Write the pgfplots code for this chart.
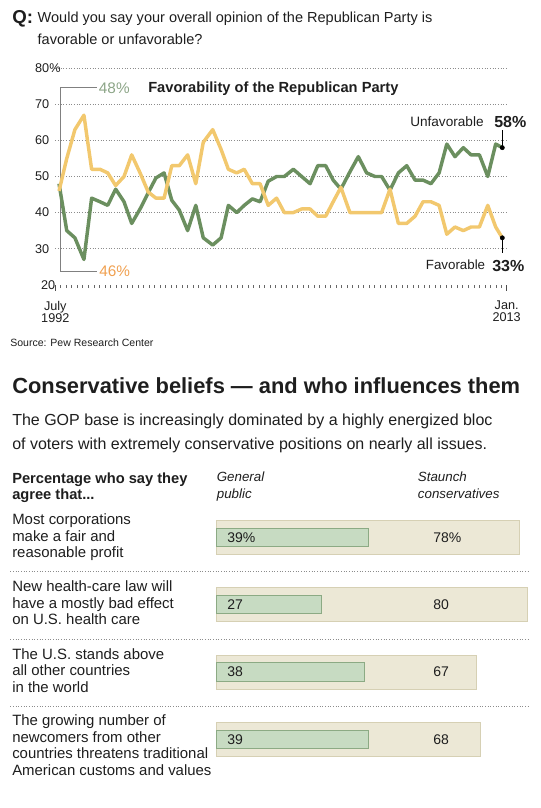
\documentclass[border=0pt]{standalone}
\usepackage{pgfplots}
\pgfplotsset{compat=1.18}
\usepackage{pgfplotstable}
\usepackage{fontspec}
\setmainfont{Liberation Sans}
\definecolor{ugreen}{RGB}{107,143,95}
\definecolor{uyellow}{RGB}{242,200,110}
\definecolor{lab48}{RGB}{140,165,135}
\definecolor{lab46}{RGB}{240,160,80}
\definecolor{beige}{RGB}{236,232,214}
\definecolor{beigeedge}{RGB}{214,208,180}
\definecolor{gbar}{RGB}{199,219,194}
\definecolor{gbaredge}{RGB}{140,170,132}
\definecolor{txt}{RGB}{30,30,30}
\newcommand{\fs}[1]{\fontsize{#1}{#1}\selectfont}
\newcommand{\T}[4][]{\node[anchor=base west,inner sep=0pt,text=txt,#1] at (#2,#3) {#4};}

\pgfplotstableread{
year unfav fav
1992.67 48 46
1993.02 35 55
1993.39 33 63
1993.80 27 67
1994.15 44 52
1994.53 43 52
1994.88 42 51
1995.24 46.5 47.5
1995.62 43 50
1995.97 37 56
1996.35 41 51
1996.72 45.5 45.7
1997.07 49.6 44
1997.44 51 44
1997.79 43.4 53
1998.13 40.7 53
1998.51 35 56
1998.88 42 48
1999.22 33 59.5
1999.65 31 63
2000.03 33 57.5
2000.36 42 52
2000.74 40 51
2001.08 42 52
2001.45 43.8 48
2001.80 43 48
2002.17 48.7 42
2002.55 50 44
2002.90 50 40
2003.31 52 40
2003.69 50 41
2004.07 48 41
2004.42 53 39
2004.78 53 39
2005.12 49 43
2005.47 46.5 47
2005.88 51.3 40
2006.26 55.5 40
2006.64 51 40
2007.02 50 40
2007.32 50 40
2007.70 46.2 46.5
2008.08 51 37
2008.46 53 37
2008.84 49 39
2009.20 49 43
2009.56 48 43
2009.93 51 42
2010.28 59 34
2010.65 55.5 36
2011.03 58 35
2011.38 56 36
2011.76 56 36
2012.14 50 42
2012.50 59 36
2012.80 58 33
}\favdata

\begin{document}
\begin{tikzpicture}
\begin{scope}[x=0.75pt,y=-0.75pt]
\path (0,0) rectangle (541,808);
\draw[black!50, line width=0.75pt] (96.7,87.7) -- (60,87.7) -- (60,271) -- (96.7,271);
\foreach \yy in {571,639,706}{
  \draw[black!45, line width=0.5pt, dash pattern=on 0.6pt off 1.4pt] (10.4,\yy) -- (528.6,\yy);
}
\end{scope}

\begin{axis}[
  at={(41.475pt,-213.525pt)}, anchor=south west, scale only axis,
  width=338.55pt, height=162.3pt,
  xmin=1992.5, xmax=2013, ymin=20, ymax=80,
  axis line style={draw=none},
  clip=false,
  /pgf/number format/assume math mode=true,
  ytick={30,40,50,60,70,80}, yticklabels={30,40,50,60,70,80\%},
  extra y ticks={20}, extra y tick labels={20},
  extra y tick style={grid=none, major tick length=0pt},
  ymajorgrids,
  grid style={black!45, line width=0.5pt, dash pattern=on 0.6pt off 1.4pt},
  ytick style={draw=none},
  yticklabel style={anchor=west, inner sep=0pt, xshift=-10.8pt, font=\fs{9.5}, text=txt},
  xtick={1992.5,2013}, xticklabels={{July\\1992},{Jan.\\2013}},
  minor xtick={1992.75,1993,...,2012.75},
  xtick pos=left,
  tick align=outside, major tick length=4.5pt, minor tick length=2.6pt,
  xtick style={black!70, line width=0.55pt},
  minor x tick style={black!60, line width=0.5pt},
  xticklabel style={align=center, inner sep=0pt, font=\fontsize{9.5}{9}\selectfont, text=txt, yshift=-7.5pt},
]
\addplot[no markers, color=ugreen, line width=2.6pt, line join=round] table[x=year,y=unfav]{\favdata};
\addplot[no markers, color=uyellow, line width=2.6pt, line join=round] table[x=year,y=fav]{\favdata};
\draw[black, line width=0.6pt] (axis cs:2012.80,58) -- (axis cs:2012.80,62.8);
\draw[black, line width=0.6pt] (axis cs:2012.80,33) -- (axis cs:2012.80,28.7);
\addplot[only marks, mark=*, mark size=1.6pt, black] coordinates {(2012.80,58) (2012.80,33)};
\end{axis}

\begin{axis}[
  at={(162.45pt,-579.9pt)}, anchor=south west, scale only axis,
  width=291.375pt, height=202.2pt,
  xmin=0, xmax=100, ymin=-4.5, ymax=-0.5,
  hide axis, clip=false,
  xbar, bar shift=0pt,
]
\addplot[fill=beige, draw=beigeedge, line width=0.75pt, bar width=0.505] coordinates {(78,-1) (80,-2) (67,-3) (68,-4)};
\addplot[fill=gbar, draw=gbaredge, line width=0.75pt, bar width=0.275] coordinates {(39,-1) (27,-2) (38,-3) (39,-4)};
\node[anchor=west, inner sep=0pt, font=\fs{10.5}, text=txt] at (axis cs:2.7,-1) {39\%};
\node[anchor=west, inner sep=0pt, font=\fs{10.5}, text=txt] at (axis cs:2.7,-2) {27};
\node[anchor=west, inner sep=0pt, font=\fs{10.5}, text=txt] at (axis cs:2.7,-3) {38};
\node[anchor=west, inner sep=0pt, font=\fs{10.5}, text=txt] at (axis cs:2.7,-4) {39};
\node[anchor=west, inner sep=0pt, font=\fs{10.5}, text=txt] at (axis cs:55.7,-1) {78\%};
\node[anchor=west, inner sep=0pt, font=\fs{10.5}, text=txt] at (axis cs:55.7,-2) {80};
\node[anchor=west, inner sep=0pt, font=\fs{10.5}, text=txt] at (axis cs:55.7,-3) {67};
\node[anchor=west, inner sep=0pt, font=\fs{10.5}, text=txt] at (axis cs:55.7,-4) {68};
\end{axis}

\begin{scope}[x=0.75pt,y=-0.75pt]
\T[font=\fs{14}\bfseries]{12}{23}{Q:}
\T[font=\fs{10.9}]{37.4}{22}{Would you say your overall opinion of the Republican Party is}
\T[font=\fs{10.9}]{37.4}{44}{favorable or unfavorable?}
\T[font=\fs{11}\bfseries]{148}{92.5}{Favorability of the Republican Party}
\T[font=\fs{11.5}, text=lab48]{98.7}{93}{48\%}
\T[font=\fs{11.5}, text=lab46]{99}{276.5}{46\%}
\T[font=\fs{10.2}]{410}{126}{Unfavorable}
\T[font=\fs{12}\bfseries]{494}{127}{58\%}
\T[font=\fs{10}]{425.6}{269.5}{Favorable}
\T[font=\fs{12}\bfseries]{492}{271}{33\%}
\T[font=\fs{7.9}]{10}{346}{Source: Pew Research Center}
\T[font=\fs{16.4}\bfseries]{12}{393}{Conservative beliefs — and who influences them}
\T[font=\fs{12}]{12}{425.8}{The GOP base is increasingly dominated by a highly energized bloc}
\T[font=\fs{12}]{12}{449}{of voters with extremely conservative positions on nearly all issues.}
\T[font=\fs{11}\bfseries]{12}{483}{Percentage who say they}
\T[font=\fs{11}\bfseries]{12}{499.5}{agree that...}
\T[font=\fs{10}\itshape]{216.6}{481.5}{General}
\T[font=\fs{10}\itshape]{216.6}{498}{public}
\T[font=\fs{10}\itshape]{417.7}{481.5}{Staunch}
\T[font=\fs{10}\itshape]{417.7}{498}{conservatives}
\T[font=\fs{11.2}]{12}{524}{Most corporations}
\T[font=\fs{11.2}]{12}{541}{make a fair and}
\T[font=\fs{11.2}]{12}{557.5}{reasonable profit}
\T[font=\fs{11.2}]{12}{591.5}{New health-care law will}
\T[font=\fs{11.2}]{12}{608}{have a mostly bad effect}
\T[font=\fs{11.2}]{12}{624.5}{on U.S. health care}
\T[font=\fs{11.2}]{12}{659}{The U.S. stands above}
\T[font=\fs{11.2}]{12}{675.5}{all other countries}
\T[font=\fs{11.2}]{12}{692}{in the world}
\T[font=\fs{11.2}]{12}{725.5}{The growing number of}
\T[font=\fs{11.2}]{12}{742}{newcomers from other}
\T[font=\fs{11.2}]{12}{758.5}{countries threatens traditional}
\T[font=\fs{11.2}]{12}{775.5}{American customs and values}
\end{scope}
\end{tikzpicture}
\end{document}
